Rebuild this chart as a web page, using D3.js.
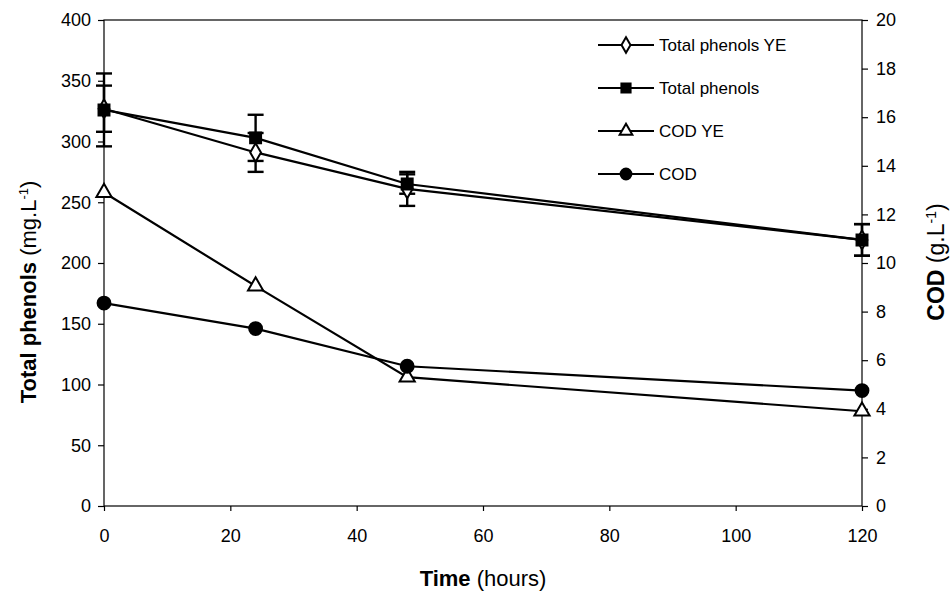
<!DOCTYPE html>
<html>
<head>
<meta charset="utf-8">
<title>Total phenols and COD</title>
<script src="https://cdn.jsdelivr.net/npm/d3@7"></script>
<style>
  body { margin: 0; background: #fff; }
  text { font-family: "Liberation Sans", Arial, sans-serif; fill: #000; }
</style>
</head>
<body>
<svg id="chart" width="952" height="596"></svg>
<script>
const times = [0, 24, 48, 120];
const phenolsYE = [327, 291, 261, 219];
const phenolsYEErr = [19, 16, 14, 13];
const phenols = [326, 303, 265, 219];
const phenolsErr = [30, 19, 8, 13];
const codYE = [12.9, 9.05, 5.3, 3.9];
const cod = [8.35, 7.3, 5.75, 4.75];

const xTicks = [0, 20, 40, 60, 80, 100, 120];
const leftTicks = [0, 50, 100, 150, 200, 250, 300, 350, 400];
const rightTicks = [0, 2, 4, 6, 8, 10, 12, 14, 16, 18, 20];
const legendNames = ["Total phenols YE", "Total phenols", "COD YE", "COD"];

const svg = d3.select("#chart");
const plotL = 104, plotR = 862, plotT = 20, plotB = 506;

const x = d3.scaleLinear().domain([0, 120]).range([plotL, plotR]);
const yL = d3.scaleLinear().domain([0, 400]).range([plotB, plotT]);
const yR = d3.scaleLinear().domain([0, 20]).range([plotB, plotT]);

// frame
svg.append("rect")
  .attr("x", plotL).attr("y", plotT)
  .attr("width", plotR - plotL).attr("height", plotB - plotT)
  .attr("fill", "none").attr("stroke", "#000").attr("stroke-width", 1.2);

// axes
function styleAxis(g) {
  g.select(".domain").remove();
  g.selectAll("line").attr("stroke", "#000").attr("stroke-width", 1.2);
  g.selectAll("text").style("font-size", "18px").style("font-family", "Liberation Sans, Arial, sans-serif");
}
svg.append("g")
  .attr("transform", `translate(0,${plotB})`)
  .call(d3.axisBottom(x).tickValues(xTicks).tickSize(5).tickPadding(18))
  .call(styleAxis);
svg.append("g")
  .attr("transform", `translate(${plotL},0)`)
  .call(d3.axisLeft(yL).tickValues(leftTicks).tickSize(6).tickPadding(7))
  .call(styleAxis);
svg.append("g")
  .attr("transform", `translate(${plotR},0)`)
  .call(d3.axisRight(yR).tickValues(rightTicks).tickSize(6).tickPadding(8))
  .call(styleAxis);

// axis titles
const xt = svg.append("text").attr("x", 483).attr("y", 586)
  .attr("text-anchor", "middle").style("font-size", "22px");
xt.append("tspan").attr("font-weight", "bold").text("Time");
xt.append("tspan").text(" (hours)");

const lt = svg.append("text")
  .attr("transform", "translate(36,292) rotate(-90)")
  .attr("text-anchor", "middle").style("font-size", "22px");
lt.append("tspan").attr("font-weight", "bold").text("Total phenols");
lt.append("tspan").text(" (mg.L");
lt.append("tspan").attr("dy", -8).style("font-size", "13px").text("-1");
lt.append("tspan").attr("dy", 8).text(")");

const rt = svg.append("text")
  .attr("transform", "translate(944,262) rotate(-90)")
  .attr("text-anchor", "middle").style("font-size", "23px");
rt.append("tspan").attr("font-weight", "bold").text("COD");
rt.append("tspan").text(" (g.L");
rt.append("tspan").attr("dy", -8).style("font-size", "14px").text("-1");
rt.append("tspan").attr("dy", 8).text(")");

// series
const series = [
  { vals: phenolsYE, err: phenolsYEErr, y: yL, sym: d3.symbolDiamond, size: 100, fill: "#fff" },
  { vals: phenols, err: phenolsErr, y: yL, sym: d3.symbolSquare, size: 120, fill: "#000" },
  { vals: codYE, err: null, y: yR, sym: d3.symbolTriangle, size: 100, fill: "#fff" },
  { vals: cod, err: null, y: yR, sym: d3.symbolCircle, size: 130, fill: "#000" }
];

const line = d3.line();
series.forEach(s => {
  const pts = times.map((t, i) => [x(t), s.y(s.vals[i])]);
  svg.append("path").attr("d", line(pts))
    .attr("fill", "none").attr("stroke", "#000").attr("stroke-width", 2.2);
  if (s.err) {
    const eb = svg.append("g").attr("stroke", "#000").attr("stroke-width", 2.4);
    times.forEach((t, i) => {
      const cx = x(t), hi = s.y(s.vals[i] + s.err[i]), lo = s.y(s.vals[i] - s.err[i]);
      eb.append("line").attr("x1", cx).attr("x2", cx).attr("y1", hi).attr("y2", lo);
      eb.append("line").attr("x1", cx - 8).attr("x2", cx + 8).attr("y1", hi).attr("y2", hi);
      eb.append("line").attr("x1", cx - 8).attr("x2", cx + 8).attr("y1", lo).attr("y2", lo);
    });
  }
});
series.forEach(s => {
  svg.append("g").selectAll("path")
    .data(times)
    .join("path")
    .attr("transform", (t, i) => `translate(${x(t)},${s.y(s.vals[i])})`)
    .attr("d", d3.symbol().type(s.sym).size(s.size))
    .attr("fill", s.fill).attr("stroke", "#000").attr("stroke-width", 2);
});

// legend
const legend = svg.append("g").attr("transform", "translate(598,45)");
legendNames.forEach((name, i) => {
  const s = series[i];
  const g = legend.append("g").attr("transform", `translate(0,${i * 43})`);
  g.append("line").attr("x1", 0).attr("x2", 56).attr("y1", 0).attr("y2", 0)
    .attr("stroke", "#000").attr("stroke-width", 2);
  g.append("path").attr("transform", "translate(28,0)")
    .attr("d", d3.symbol().type(s.sym).size(s.size * 0.7))
    .attr("fill", s.fill).attr("stroke", "#000").attr("stroke-width", 2);
  g.append("text").attr("x", 61).attr("y", 6).style("font-size", "17px").text(name);
});
</script>
</body>
</html>
